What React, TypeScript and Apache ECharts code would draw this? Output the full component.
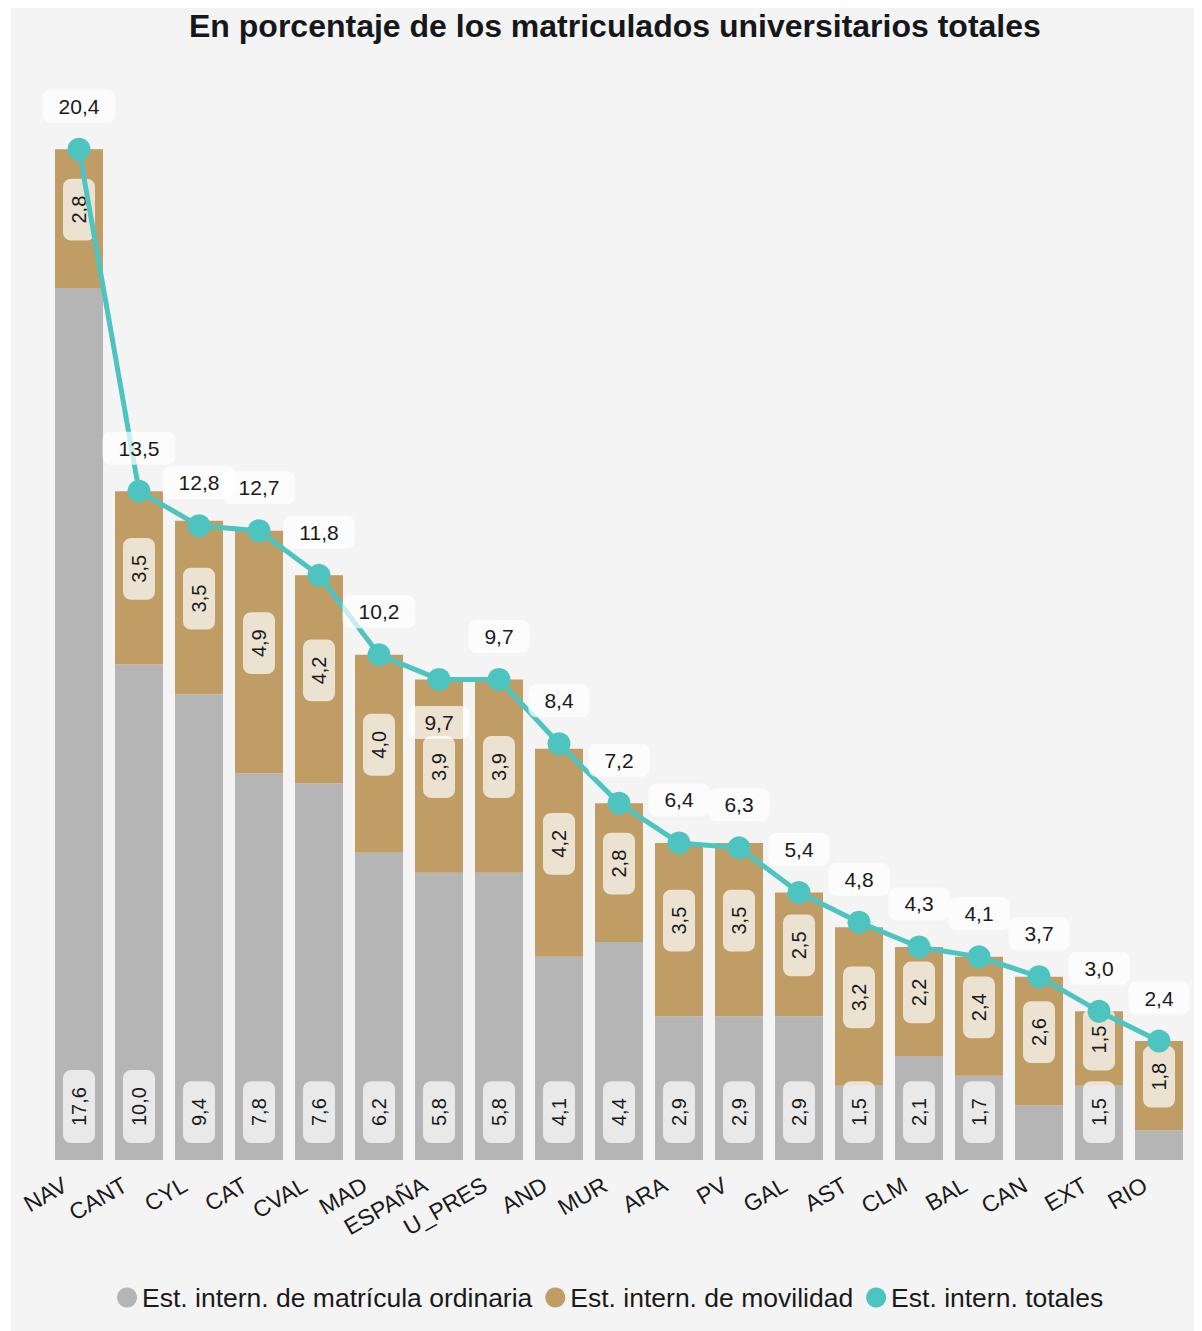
import React, { useEffect, useRef } from "react";
import * as echarts from "echarts";

const categories = ["NAV", "CANT", "CYL", "CAT", "CVAL", "MAD", "ESPAÑA", "U_PRES", "AND", "MUR", "ARA", "PV", "GAL", "AST", "CLM", "BAL", "CAN", "EXT", "RIO"];
const ordinaria = [17.6, 10.0, 9.4, 7.8, 7.6, 6.2, 5.8, 5.8, 4.1, 4.4, 2.9, 2.9, 2.9, 1.5, 2.1, 1.7, 1.1, 1.5, 0.6];
const movilidad = [2.8, 3.5, 3.5, 4.9, 4.2, 4.0, 3.9, 3.9, 4.2, 2.8, 3.5, 3.5, 2.5, 3.2, 2.2, 2.4, 2.6, 1.5, 1.8];
const totales = [20.4, 13.5, 12.8, 12.7, 11.8, 10.2, 9.7, 9.7, 8.4, 7.2, 6.4, 6.3, 5.4, 4.8, 4.3, 4.1, 3.7, 3.0, 2.4];
const hiddenOrdinariaLabels = ["CAN", "RIO"];
const totalLabelBelow = ["ESPAÑA"];

const seriesNames = [
  "Est. intern. de matrícula ordinaria",
  "Est. intern. de movilidad",
  "Est. intern. totales",
];
const titleText = "En porcentaje de los matriculados universitarios totales";

const FONT = "'Liberation Sans', Arial, sans-serif";
const fmt = (v: number) => v.toFixed(1).replace(".", ",");

export default function App() {
  const ref = useRef<HTMLDivElement>(null);
  useEffect(() => {
    if (!ref.current) return;
    const chart = echarts.init(ref.current, null, { renderer: "svg" });
    const barLabel = {
      show: true,
      rotate: 90,
      fontSize: 20,
      fontFamily: FONT,
      color: "#1a1a1a",
      backgroundColor: "rgba(255,255,255,0.7)",
      borderRadius: 8,
      padding: [6, 17],
      formatter: (p: any) => fmt(p.value),
    };
    chart.setOption({
      animation: false,
      backgroundColor: "#f4f4f4",
      textStyle: { fontFamily: FONT },
      title: {
        text: titleText,
        left: 178,
        top: 2,
        padding: 0,
        textStyle: { fontSize: 32, fontWeight: "bold", color: "#15171a", fontFamily: FONT },
      },
      legend: {
        top: 1271,
        left: 101,
        icon: "circle",
        itemWidth: 20,
        itemHeight: 20,
        itemGap: 13,
        textStyle: { fontSize: 26.5, color: "#1a1a1a", fontFamily: FONT },
        data: seriesNames,
      },
      grid: { left: 38, right: 13, top: 62, bottom: 171, containLabel: false },
      xAxis: {
        type: "category",
        data: categories,
        axisLine: { show: false },
        axisTick: { show: false },
        axisLabel: {
          rotate: 30,
          fontSize: 23,
          color: "#1a1a1a",
          margin: 15,
          padding: [0, 16, 0, 0],
          interval: 0,
          fontFamily: FONT,
        },
      },
      yAxis: { type: "value", show: false, min: 0, max: 22 },
      series: [
        {
          name: seriesNames[0],
          type: "bar",
          stack: "a",
          barCategoryGap: "20%",
          itemStyle: { color: "#b5b5b5" },
          label: { ...barLabel, position: "insideBottom", distance: 17, align: "left", verticalAlign: "middle" },
          data: ordinaria.map((v, i) =>
            hiddenOrdinariaLabels.includes(categories[i]) ? { value: v, label: { show: false } } : v
          ),
        },
        {
          name: seriesNames[1],
          type: "bar",
          stack: "a",
          barCategoryGap: "20%",
          itemStyle: { color: "#bf9d65" },
          label: { ...barLabel, position: "inside", align: "center", verticalAlign: "middle", offset: [9, 0] },
          data: movilidad,
        },
        {
          name: seriesNames[2],
          type: "line",
          symbol: "circle",
          symbolSize: 23,
          itemStyle: { color: "#4dc4bf" },
          lineStyle: { width: 5, color: "#4dc4bf" },
          label: {
            show: true,
            position: "top",
            distance: 15,
            fontSize: 21,
            fontFamily: FONT,
            color: "#1a1a1a",
            backgroundColor: "rgba(255,255,255,0.7)",
            borderRadius: 8,
            padding: [6, 16],
            formatter: (p: any) => fmt(p.value),
          },
          data: totales.map((v, i) =>
            totalLabelBelow.includes(categories[i]) ? { value: v, label: { position: "bottom" } } : v
          ),
        },
      ],
    });
    return () => chart.dispose();
  }, []);
  return <div ref={ref} style={{ width: 1191, height: 1323, marginLeft: 3 }} />;
}
